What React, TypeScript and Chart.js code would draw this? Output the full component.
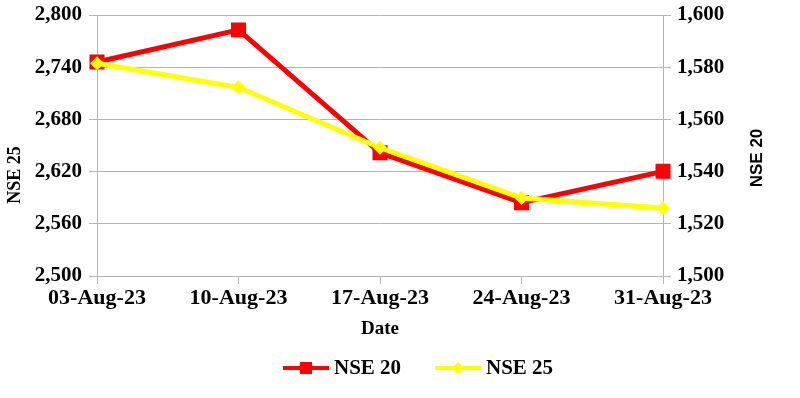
import React, { useEffect, useRef } from 'react';
import { Chart, registerables } from 'chart.js';

Chart.register(...registerables);

const categories = ['03-Aug-23', '10-Aug-23', '17-Aug-23', '24-Aug-23', '31-Aug-23'];
const nse20Values = [1582.0, 1594.3, 1547.2, 1528.1, 1540.1];
const nse25Values = [2744.5, 2716.9, 2647.5, 2589.7, 2578.2];
const leftTicks = { min: 2500, max: 2800, step: 60 };
const rightTicks = { min: 1500, max: 1600, step: 20 };
const seriesNames = ['NSE 20', 'NSE 25'];
const axisTitles = { x: 'Date', left: 'NSE 25', right: 'NSE 20' };

const RED = '#ff0000';
const YELLOW = '#ffff00';
const GRID = '#b4b4b4';
const SERIF = '"Liberation Serif", "Times New Roman", serif';
const SANS = '"Liberation Sans", Arial, sans-serif';

const fmt = (v: number) => Number(v).toLocaleString('en-US');

const drawMarker = (ctx: CanvasRenderingContext2D, style: string, x: number, y: number, half: number, color: string) => {
  ctx.fillStyle = color;
  if (style === 'rect') {
    ctx.fillRect(x - half, y - half, half * 2, half * 2);
  } else {
    ctx.beginPath();
    ctx.moveTo(x, y - half);
    ctx.lineTo(x + half, y);
    ctx.lineTo(x, y + half);
    ctx.lineTo(x - half, y);
    ctx.closePath();
    ctx.fill();
  }
};

const customPlugin = {
  id: 'customDecor',
  afterDraw(chart: any) {
    const ctx: CanvasRenderingContext2D = chart.ctx;
    ctx.save();
    ctx.fillStyle = '#000';
    ctx.textAlign = 'center';
    ctx.textBaseline = 'middle';

    // left axis title
    ctx.save();
    ctx.font = `bold 18px ${SERIF}`;
    ctx.translate(15, 175);
    ctx.rotate(-Math.PI / 2);
    ctx.fillText(axisTitles.left, 0, 0);
    ctx.restore();

    // right axis title
    ctx.save();
    ctx.font = `bold 17px ${SANS}`;
    ctx.translate(757, 158);
    ctx.rotate(-Math.PI / 2);
    ctx.fillText(axisTitles.right, 0, 0);
    ctx.restore();

    // legend
    const legendY = 368;
    const items = [
      { name: seriesNames[0], color: RED, style: 'rect', half: 6, x: 283 },
      { name: seriesNames[1], color: YELLOW, style: 'diamond', half: 6, x: 435 },
    ];
    ctx.font = `bold 21px ${SERIF}`;
    ctx.textAlign = 'left';
    items.forEach((it) => {
      ctx.strokeStyle = it.color;
      ctx.lineWidth = 4;
      ctx.beginPath();
      ctx.moveTo(it.x, legendY);
      ctx.lineTo(it.x + 46, legendY);
      ctx.stroke();
      drawMarker(ctx, it.style, it.x + 23, legendY, it.half, it.color);
      ctx.fillStyle = '#000';
      ctx.fillText(it.name, it.x + 51, legendY + 1);
    });
    ctx.restore();
  },
};

export default function App() {
  const ref = useRef<HTMLCanvasElement | null>(null);

  useEffect(() => {
    if (!ref.current) return;
    const yTickFont = { family: SERIF, size: 21, weight: 'bold' as const };
    const xTickFont = { family: SERIF, size: 22, weight: 'bold' as const };
    const chart = new Chart(ref.current, {
      type: 'line',
      data: {
        labels: categories,
        datasets: [
          {
            label: seriesNames[0],
            data: nse20Values,
            yAxisID: 'y1',
            borderColor: RED,
            backgroundColor: RED,
            borderWidth: 5,
            pointStyle: 'rect',
            pointRadius: 10.6,
            pointHoverRadius: 10.6,
            pointBorderWidth: 0,
            tension: 0,
            order: 1,
          },
          {
            label: seriesNames[1],
            data: nse25Values,
            yAxisID: 'y',
            borderColor: YELLOW,
            backgroundColor: YELLOW,
            borderWidth: 5,
            pointStyle: 'rectRot',
            pointRadius: 7,
            pointHoverRadius: 7,
            pointBorderWidth: 0,
            tension: 0,
            order: 0,
          },
        ],
      },
      options: {
        animation: false,
        responsive: true,
        maintainAspectRatio: false,
        layout: { padding: { top: 15, left: 0, right: 0, bottom: 0 } },
        plugins: {
          legend: { display: false },
          tooltip: { enabled: false },
        },
        scales: {
          x: {
            type: 'category',
            offset: false,
            grid: {
              drawOnChartArea: false,
              drawTicks: true,
              tickLength: 8,
              color: GRID,
              lineWidth: 1,
            },
            border: { display: true, color: GRID, width: 1 },
            ticks: {
              color: '#000',
              font: xTickFont,
              padding: 1,
              maxRotation: 0,
              autoSkip: false,
            },
            title: {
              display: true,
              text: axisTitles.x,
              color: '#000',
              font: { family: SERIF, size: 19, weight: 'bold' },
              padding: { top: 0, bottom: 58 },
            },
            afterFit: (s: any) => {
              s.height = 122;
              s.paddingLeft = 0;
              s.paddingRight = 0;
            },
          },
          y: {
            position: 'left',
            min: leftTicks.min,
            max: leftTicks.max,
            grid: {
              drawOnChartArea: true,
              drawTicks: true,
              tickLength: 8,
              color: GRID,
              lineWidth: 1,
            },
            border: { display: true, color: GRID, width: 1 },
            ticks: {
              stepSize: leftTicks.step,
              color: '#000',
              font: yTickFont,
              padding: 7,
              callback: (v: any) => fmt(v),
            },
            afterFit: (s: any) => {
              s.width = 97;
              s.paddingTop = 0;
              s.paddingBottom = 0;
            },
          },
          y1: {
            position: 'right',
            min: rightTicks.min,
            max: rightTicks.max,
            grid: {
              drawOnChartArea: false,
              drawTicks: true,
              tickLength: 8,
              color: GRID,
              lineWidth: 1,
            },
            border: { display: true, color: GRID, width: 1 },
            ticks: {
              stepSize: rightTicks.step,
              color: '#000',
              font: yTickFont,
              padding: 6,
              callback: (v: any) => fmt(v),
            },
            afterFit: (s: any) => {
              s.width = 137;
              s.paddingTop = 0;
              s.paddingBottom = 0;
            },
          },
        },
      },
      plugins: [customPlugin],
    });
    return () => chart.destroy();
  }, []);

  return (
    <div style={{ position: 'fixed', left: 0, top: 0, width: 800, height: 398, background: '#fff' }}>
      <canvas ref={ref} />
    </div>
  );
}
